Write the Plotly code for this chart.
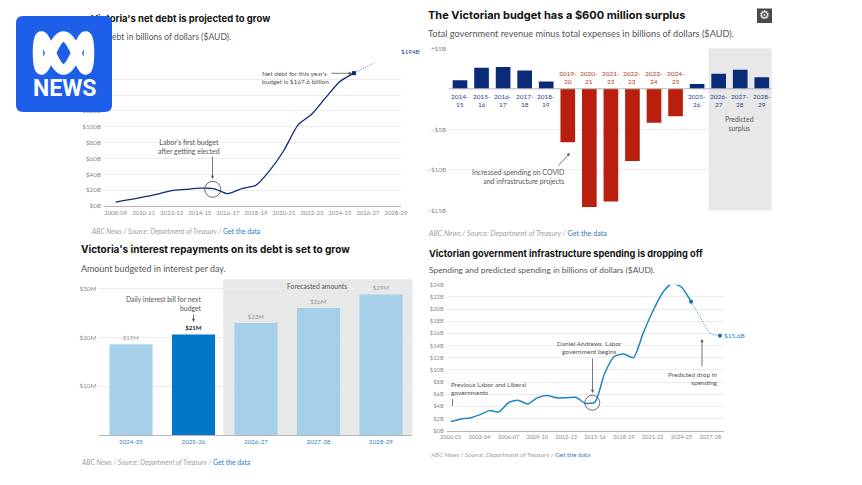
import plotly.graph_objects as go
import numpy as np

W, H = 862, 485

# ---- data ----
debt_years = ["2008-09","2009-10","2010-11","2011-12","2012-13","2013-14","2014-15","2015-16","2016-17","2017-18",
              "2018-19","2019-20","2020-21","2021-22","2022-23","2023-24","2024-25","2025-26","2026-27","2027-28","2028-29"]
debt_actual = [5,8,11.5,15,19.5,21,22.5,22,15.5,22,26,45,70,102,116,137,157,167.6]
debt_forecast = [167.6,176,185,194]
debt_tick_idx = list(range(0,21,2))
debt_y_ticks = [0,20,40,60,80,100,120,140,160,180]
debt_y_labels = ["$0B","$20B","$40B","$60B","$80B","$100B","$120B","","",""]  # the upper labels sit behind the logo

budget_years = ["2014-<br>15","2015-<br>16","2016-<br>17","2017-<br>18","2018-<br>19","2019-<br>20","2020-<br>21","2021-<br>22",
                "2022-<br>23","2023-<br>24","2024-<br>25","2025-<br>26","2026-<br>27","2027-<br>28","2028-<br>29"]
budget_vals = [1.07,2.6,2.7,2.26,0.9,-6.6,-14.6,-13.9,-8.9,-4.2,-3.4,0.6,1.85,2.35,1.44]

int_years = ["2024-25","2025-26","2026-27","2027-28","2028-29"]
int_vals = [18.6,20.6,22.95,26,28.8]
int_labels = ["$19M","<b>$21M</b>","$23M","$26M","$29M"]

infra_years = ["2000-01","2001-02","2002-03","2003-04","2004-05","2005-06","2006-07","2007-08","2008-09","2009-10",
               "2010-11","2011-12","2012-13","2013-14","2014-15","2015-16","2016-17","2017-18","2018-19","2019-20",
               "2020-21","2021-22","2022-23","2023-24","2024-25","2025-26","2026-27","2027-28","2028-29"]
infra_actual = [1.5,1.9,2.1,2.6,3.3,3.1,4.6,5.0,4.4,5.4,5.8,5.4,5.4,5.5,4.5,4.7,9.4,12.2,12.6,12.0,16,19.6,22.6,24.2,23.6,21.2]
infra_forecast = [21.2,18.5,16.0,15.6]
infra_tick_idx = list(range(0,28,3))

# ---- pixel helpers ----
def fx(p): return p/W
def fy(p): return 1-p/H
def dom_x(a,b): return [fx(a),fx(b)]
def dom_y(top,bot): return [fy(bot),fy(top)]

FONT = "Lato, 'Open Sans', sans-serif"
TITLE = "Inter, Roboto, sans-serif"
GRAY = "#8a8a8a"
DARK = "#555555"
GRID = "#ececec"
NAVY = "#0b2a78"
RED = "#b81f0e"
MIDBLUE = "#1c86c6"
LINK = "#2f7cc0"

fig = go.Figure()
anns, shapes = [], []

def text(x,y,s,size=8,color=DARK,anchor="left",valign="middle",family=FONT,align=None):
    anns.append(dict(x=fx(x),y=fy(y),xref="paper",yref="paper",text=s,showarrow=False,xanchor=anchor,yanchor=valign,
                     font=dict(size=size,color=color,family=family),align=align or anchor,borderpad=0,borderwidth=0))

def arrow(x0,y0,x1,y1,color="#555555"):
    anns.append(dict(x=fx(x1),y=fy(y1),ax=x0-x1,ay=y0-y1,xref="paper",yref="paper",axref="pixel",ayref="pixel",
                     text="",showarrow=True,arrowhead=2,arrowsize=0.8,arrowwidth=0.8,arrowcolor=color,standoff=0))

def circle(cx,cy,r):
    shapes.append(dict(type="circle",xref="paper",yref="paper",x0=fx(cx-r),x1=fx(cx+r),y0=fy(cy+r),y1=fy(cy-r),
                       line=dict(color="#444444",width=0.8)))

def band(xa,xb,ya,yb,color="#e8e8e8"):
    shapes.append(dict(type="rect",xref="paper",yref="paper",x0=fx(xa),x1=fx(xb),y0=fy(yb),y1=fy(ya),
                       fillcolor=color,line=dict(width=0),layer="below"))

def footer(x,y,size):
    text(x,y,"<i>ABC News / Source: Department of Treasury /</i> <span style='color:%s'>Get the data</span>"%LINK,size=size,color="#a0a0a0")

# ---- chart 1: net debt ----
fig.add_trace(go.Scatter(x=debt_years[:len(debt_actual)],y=debt_actual,mode="lines",line=dict(color=NAVY,width=1.3,shape="spline",smoothing=0.6),
                         xaxis="x",yaxis="y",showlegend=False,cliponaxis=False))
fig.add_trace(go.Scatter(x=debt_years[-4:],y=debt_forecast,mode="lines",line=dict(color="#3d5a9a",width=0.9,dash="1px,1.5px"),xaxis="x",yaxis="y",showlegend=False,cliponaxis=False))
fig.add_trace(go.Scatter(x=[debt_years[17],debt_years[20]],y=[debt_forecast[0],debt_forecast[-1]],mode="markers",marker=dict(color=NAVY,size=4,symbol="square"),
                         xaxis="x",yaxis="y",showlegend=False,cliponaxis=False))
# ---- chart 2: budget ----
fig.add_trace(go.Bar(x=list(range(15)),y=budget_vals,width=0.68,marker=dict(color=[NAVY if v>0 else RED for v in budget_vals],line=dict(width=0)),
                     xaxis="x2",yaxis="y2",showlegend=False))
# ---- chart 3: interest ----
fig.add_trace(go.Bar(x=int_years,y=int_vals,width=0.69,text=int_labels,textposition="outside",cliponaxis=False,
                     textfont=dict(size=6,color=["#999999","#222222","#999999","#999999","#999999"],family=FONT),
                     marker=dict(color=["#a6d0ea","#0277c8","#a6d0ea","#a6d0ea","#a6d0ea"],line=dict(width=0)),
                     xaxis="x3",yaxis="y3",showlegend=False))
# ---- chart 4: infrastructure ----
fig.add_trace(go.Scatter(x=infra_years[:len(infra_actual)],y=infra_actual,mode="lines",line=dict(color=MIDBLUE,width=1.5,shape="spline",smoothing=0.6),
                         xaxis="x4",yaxis="y4",showlegend=False,cliponaxis=False))
fig.add_trace(go.Scatter(x=infra_years[-4:],y=infra_forecast,mode="lines",line=dict(color=MIDBLUE,width=1,dash="1px,1.5px",shape="spline",smoothing=0.6),
                         xaxis="x4",yaxis="y4",showlegend=False,cliponaxis=False))
fig.add_trace(go.Scatter(x=[infra_years[25],infra_years[28]],y=[infra_forecast[0],infra_forecast[-1]],mode="markers",marker=dict(color="#0f6fb0",size=4),
                         xaxis="x4",yaxis="y4",showlegend=False,cliponaxis=False))

# title + subtitle of chart 1 pass behind the logo, so they are drawn as a text trace under the shape layer
fig.add_trace(go.Scatter(x=[91],y=[19.5],mode="text",text=["<b>Victoria's net debt is projected to grow</b>"],textposition="middle right",
                         textfont=dict(size=9.5,color="#111111",family=TITLE),xaxis="x5",yaxis="y5",showlegend=False,cliponaxis=False))
fig.add_trace(go.Scatter(x=[91],y=[37.5],mode="text",text=["Net debt in billions of dollars ($AUD)."],textposition="middle right",
                         textfont=dict(size=8.6,color=DARK,family=FONT),xaxis="x5",yaxis="y5",showlegend=False,cliponaxis=False))

def yax(domain,rng,vals,texts,anchor,size=6.3):
    return dict(domain=domain,range=rng,tickvals=vals,ticktext=texts,anchor=anchor,showgrid=True,gridcolor=GRID,gridwidth=1,
                zeroline=False,showline=False,ticks="",tickfont=dict(size=size,color=GRAY,family=FONT),ticklabelstandoff=2,layer="below traces")
def xax(domain,rng,vals,texts,anchor,color=GRAY,size=6,showticks=True):
    return dict(domain=domain,range=rng,tickvals=vals,ticktext=texts,anchor=anchor,showgrid=False,zeroline=False,
                showline=True,linecolor="#b5b5b5",linewidth=1,ticks="",tickfont=dict(size=size,color=color,family=FONT),tickangle=0,
                showticklabels=showticks,ticklabelstandoff=1)

layout = dict(width=W,height=H,margin=dict(l=0,r=0,t=0,b=0,autoexpand=False),paper_bgcolor="white",plot_bgcolor="rgba(0,0,0,0)",barmode="overlay",showlegend=False)

layout["xaxis"]  = xax(dom_x(104,401),[-0.835,20.36],[debt_years[i] for i in debt_tick_idx],[debt_years[i] for i in debt_tick_idx],"y")
layout["xaxis"]["type"]="category"; layout["xaxis"]["categoryorder"]="array"; layout["xaxis"]["categoryarray"]=debt_years
layout["yaxis"]  = yax(dom_y(63.3,206),[0,180],debt_y_ticks,debt_y_labels,"x")

layout["xaxis2"] = dict(domain=dom_x(449,771.7),range=[-0.51,14.46],anchor="y2",showticklabels=False,ticks="",showgrid=False,zeroline=False,showline=False)
layout["yaxis2"] = yax(dom_y(48.3,210.3),[-15,5],[-15,-10,-5,5],["−$15B","−$10B","−$5B","+$5B"],"x2")

layout["xaxis3"] = xax(dom_x(99.3,412.3),[-0.507,4.5],int_years,int_years,"y3",color=LINK,size=6.2)
layout["xaxis3"]["type"]="category"
layout["yaxis3"] = yax(dom_y(279.3,435),[0,31.9],[10,20,30],["$10M","$20M","$30M"],"x3")

layout["xaxis4"] = xax(dom_x(446.7,724),[-0.42,28.42],[infra_years[i] for i in infra_tick_idx],[infra_years[i] for i in infra_tick_idx],"y4",size=5.6)
layout["xaxis4"]["type"]="category"; layout["xaxis4"]["categoryorder"]="array"; layout["xaxis4"]["categoryarray"]=infra_years
layout["yaxis4"] = yax(dom_y(284.7,430.7),[0,24],list(range(0,25,2)),["$%dB"%v for v in range(0,25,2)],"x4",size=5.8)

# full-figure helper axes used by the text trace above
layout["xaxis5"] = dict(domain=[0,1],range=[0,W],visible=False,anchor="y5")
layout["yaxis5"] = dict(domain=[0,1],range=[H,0],visible=False,anchor="x5")

# zero line chart 2 and labels (placed from the data through the axes)
shapes.append(dict(type="line",xref="x2 domain",yref="y2",x0=0,x1=1,y0=0,y1=0,line=dict(color="#b5b5b5",width=1)))
for i,(lab,v) in enumerate(zip(budget_years,budget_vals)):
    anns.append(dict(x=i,y=0,xref="x2",yref="y2",text=lab,showarrow=False,yanchor="bottom" if v<0 else "top",yshift=2 if v<0 else -2,
                     font=dict(size=6.5,color="#b8382a" if v<0 else "#1f3f8f",family=FONT),align="center"))

# bands
band(708.7,771.7,48.3,210.3)
band(223.3,412.3,279.3,435)

# titles
text(428,15,"<b>The Victorian budget has a $600 million surplus</b>",size=11,color="#111111",family=TITLE)
text(428,33.5,"Total government revenue minus total expenses in billions of dollars ($AUD).",size=9.2,color=DARK)
text(80.5,250,"<b>Victoria's interest repayments on its debt is set to grow</b>",size=10,color="#111111",family=TITLE)
text(80.5,268,"Amount budgeted in interest per day.",size=8.9,color=DARK)
text(429,253,"<b>Victorian government infrastructure spending is dropping off</b>",size=9.2,color="#111111",family=TITLE)
text(429,270,"Spending and predicted spending in billions of dollars ($AUD).",size=8.4,color=DARK)

# footers
footer(91,231,6.8); footer(428,233.5,7.2); footer(81,461.7,6.8); footer(430,454,6.45)

# chart 1 annotations
text(329,77,"Net debt for this year's<br>budget is $167.6 billion",size=6.5,anchor="right",align="left")
arrow(330,73.3,352,73.3)
text(219.5,146,"Labor's first budget<br>after getting elected",size=7,anchor="right",align="center")
arrow(212.5,155,212.5,179)
circle(212.7,189.3,8)
text(400.5,52,"$194B",size=6.3,color="#24478f")

# chart 2 annotations
text(564,176.5,"Increased spending on COVID<br>and infrastructure projects",size=7,anchor="right",align="right")
arrow(557,167,570,153)
text(739,124,"Predicted<br>surplus",size=6.8,anchor="center",align="center")

# chart 3 annotations
text(202,303,"Daily interest bill for next<br>budget",size=6.8,anchor="right",align="right")
arrow(193.5,313,193.5,322)
text(317,285.5,"Forecasted amounts",size=6.8,anchor="center")

# chart 4 annotations
text(589.5,347.5,"Daniel Andrews  Labor<br>government begins",size=6.5,anchor="center",align="center")
arrow(592.5,357,592.5,393)
circle(592.3,402.7,7.5)
text(451,388.5,"Previous Labor and Liberal<br>governments",size=6.5,anchor="left")
shapes.append(dict(type="line",xref="paper",yref="paper",x0=fx(452.5),x1=fx(452.5),y0=fy(406),y1=fy(399),line=dict(color="#555555",width=0.8)))
text(693,378,"Predicted drop in<br>spending",size=6.5,anchor="center",align="right")
arrow(702,368,702,339)
text(723.5,335.5,"$15.6B",size=6.5,color=MIDBLUE)

# ABC logo panel
def rrect(x0,y0,x1,y1,r):
    X=lambda v:fx(v); Y=lambda v:fy(v)
    return (f"M{X(x0+r)},{Y(y0)} L{X(x1-r)},{Y(y0)} Q{X(x1)},{Y(y0)} {X(x1)},{Y(y0+r)} L{X(x1)},{Y(y1-r)} Q{X(x1)},{Y(y1)} {X(x1-r)},{Y(y1)} "
            f"L{X(x0+r)},{Y(y1)} Q{X(x0)},{Y(y1)} {X(x0)},{Y(y1-r)} L{X(x0)},{Y(y0+r)} Q{X(x0)},{Y(y0)} {X(x0+r)},{Y(y0)} Z")
shapes.append(dict(type="path",xref="paper",yref="paper",path=rrect(16,16,112,112,7),fillcolor="#1d5fe8",line=dict(width=0),layer="above"))
t=np.linspace(0,2*np.pi,260)
lx=63.5+25.5*np.sin(t)
ly=53+16.5*np.cos(3*t)
logo_path="M"+" L".join(f"{fx(a):.5f},{fy(b):.5f}" for a,b in zip(lx,ly))+" Z"
shapes.append(dict(type="path",xref="paper",yref="paper",path=logo_path,line=dict(color="white",width=10.5),layer="above"))
text(64,88.5,"<b>NEWS</b>",size=23,color="white",anchor="center",family="Roboto, sans-serif")

# settings icon
shapes.append(dict(type="rect",xref="paper",yref="paper",x0=fx(757),x1=fx(772),y0=fy(23),y1=fy(8.5),fillcolor="#4a4a4a",line=dict(width=0)))
text(764.5,15.5,"⚙",size=12,color="white",anchor="center",family="DejaVu Sans")

layout["annotations"]=anns
layout["shapes"]=shapes
fig.update_layout(**layout)
fig.write_html("out.html",config=dict(displayModeBar=False),post_script="document.body.style.margin='0';document.body.style.overflow='hidden';")
